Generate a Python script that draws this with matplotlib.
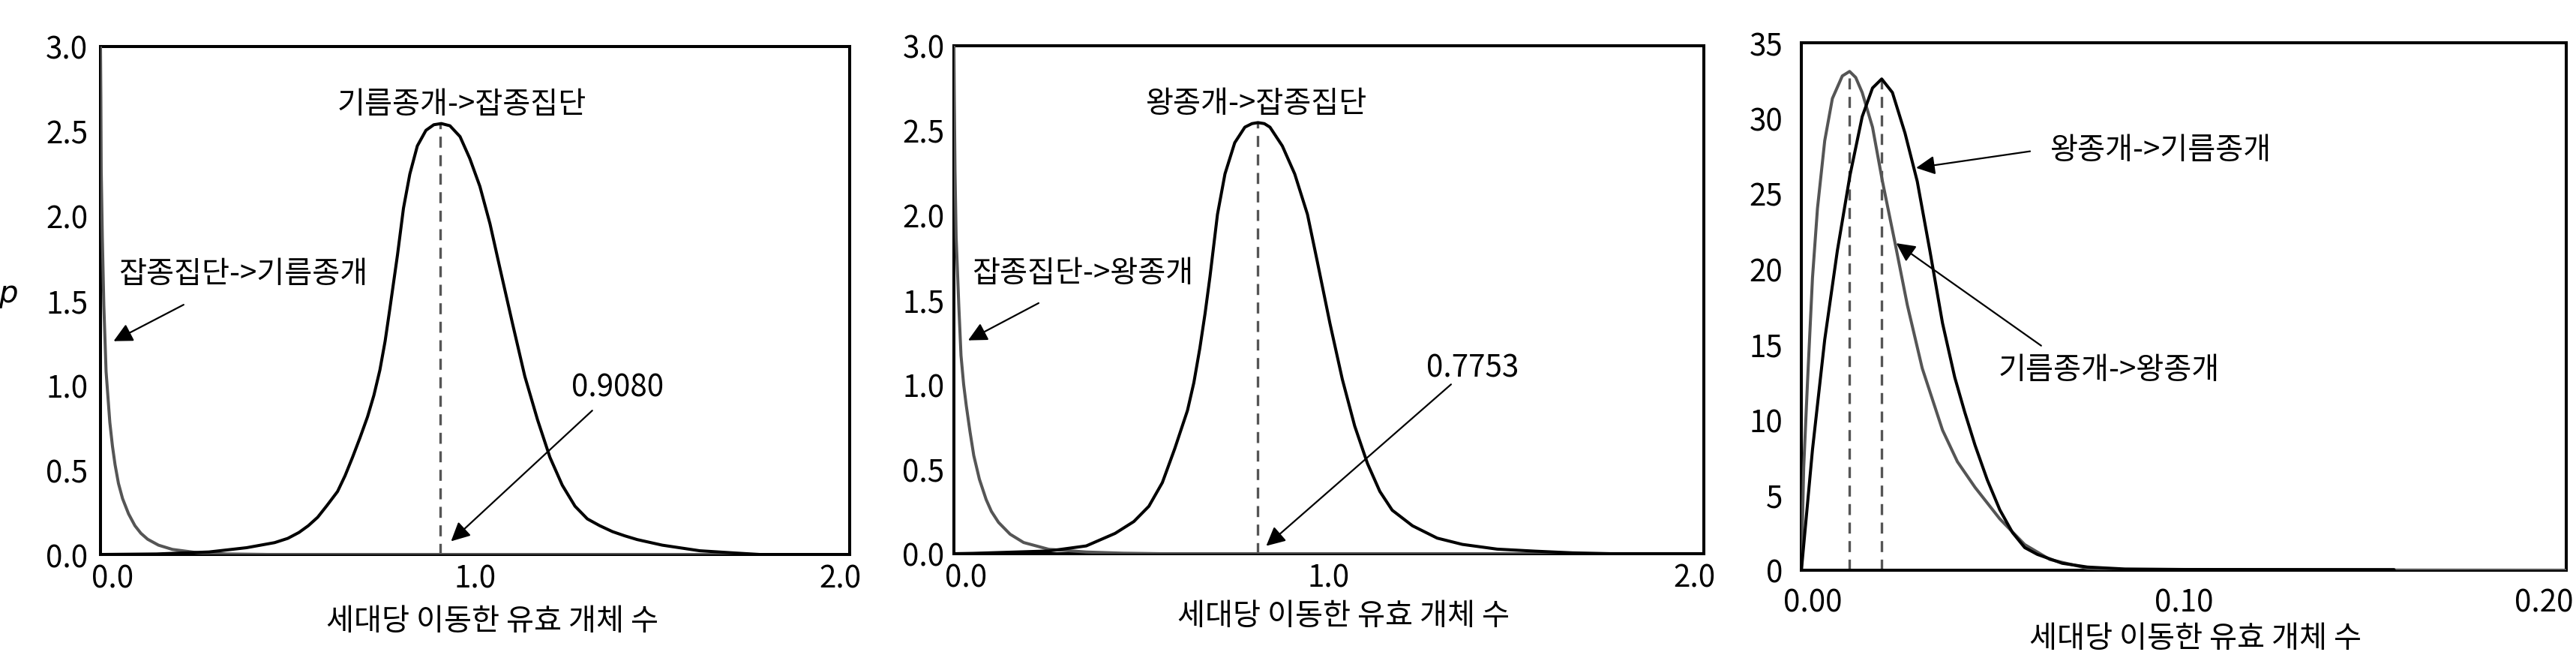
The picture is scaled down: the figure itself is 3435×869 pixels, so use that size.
import matplotlib.pyplot as plt
from matplotlib import transforms

plt.rcParams['font.family'] = ['Noto Sans CJK KR', 'DejaVu Sans']
plt.rcParams['font.weight'] = 'light'

# ---- 데이터 ----
# 패널 1: 기름종개 <-> 잡종집단
p1_black_x = [0, 0.15, 0.29, 0.39, 0.465, 0.50, 0.53, 0.555, 0.58, 0.605, 0.633, 0.653, 0.673,
              0.693, 0.713, 0.73, 0.746, 0.76, 0.773, 0.793, 0.809, 0.826, 0.846, 0.869, 0.890,
              0.910, 0.933, 0.960, 0.986, 1.013, 1.040, 1.066, 1.100, 1.133, 1.167, 1.200,
              1.233, 1.267, 1.300, 1.333, 1.367, 1.40, 1.433, 1.50, 1.60, 1.70, 1.76, 2.0]
p1_black_y = [0, 0.003, 0.015, 0.04, 0.07, 0.095, 0.13, 0.17, 0.22, 0.29, 0.372, 0.465, 0.574,
              0.69, 0.813, 0.94, 1.089, 1.26, 1.457, 1.769, 2.045, 2.247, 2.413, 2.505, 2.538,
              2.545, 2.532, 2.468, 2.339, 2.174, 1.953, 1.696, 1.365, 1.052, 0.795, 0.574,
              0.409, 0.285, 0.21, 0.17, 0.135, 0.11, 0.088, 0.055, 0.022, 0.008, 0, 0]
p1_gray_x = [0, 0.001, 0.002, 0.005, 0.009, 0.015, 0.025, 0.032, 0.039, 0.048, 0.059, 0.075,
             0.092, 0.108, 0.126, 0.155, 0.192, 0.26, 0.34, 0.45, 2.0]
p1_gray_y = [3.0, 2.7, 2.27, 1.87, 1.47, 1.08, 0.78, 0.64, 0.53, 0.42, 0.33, 0.24,
             0.17, 0.125, 0.09, 0.055, 0.03, 0.01, 0.003, 0, 0]
p1_mode = 0.908
p1_mode_y = 2.545

# 패널 2: 왕종개 <-> 잡종집단
p2_black_x = [0, 0.05, 0.253, 0.353, 0.43, 0.48, 0.52, 0.556, 0.589, 0.623, 0.64, 0.656, 0.67,
              0.683, 0.703, 0.723, 0.749, 0.776, 0.795, 0.811, 0.828, 0.843, 0.876, 0.909,
              0.943, 0.969, 1.003, 1.036, 1.069, 1.103, 1.136, 1.169, 1.223, 1.289, 1.356,
              1.449, 1.55, 1.65, 1.75, 2.0]
p2_black_y = [0, 0.002, 0.016, 0.046, 0.12, 0.19, 0.28, 0.42, 0.62, 0.846, 1.01, 1.214, 1.42,
              1.636, 2.004, 2.243, 2.427, 2.519, 2.54, 2.546, 2.54, 2.519, 2.408, 2.243,
              2.004, 1.728, 1.36, 1.03, 0.754, 0.533, 0.368, 0.257, 0.165, 0.092, 0.055,
              0.027, 0.015, 0.005, 0, 0]
p2_gray_x = [0, 0.001, 0.003, 0.006, 0.013, 0.019, 0.026, 0.033, 0.043, 0.053, 0.068, 0.086,
             0.10, 0.119, 0.15, 0.186, 0.253, 0.353, 0.45, 0.55, 2.0]
p2_gray_y = [3.0, 2.7, 2.26, 1.87, 1.47, 1.17, 1.0, 0.875, 0.72, 0.58, 0.44, 0.32,
             0.25, 0.185, 0.115, 0.066, 0.026, 0.01, 0.003, 0, 0]
p2_mode = 0.811
p2_mode_y = 2.546

# 패널 3: 왕종개 <-> 기름종개
p3_gray_x = [0, 0.0006, 0.0016, 0.0029, 0.0042, 0.0061, 0.0081, 0.0107, 0.0126, 0.0142, 0.0159,
             0.0186, 0.0212, 0.0245, 0.0277, 0.0316, 0.0369, 0.0408, 0.0454, 0.0519, 0.0584,
             0.065, 0.0748, 0.085, 0.2]
p3_gray_y = [0, 6.8, 12.5, 19.4, 24.0, 28.5, 31.3, 32.8, 33.1, 32.7, 31.7,
             29.4, 25.8, 21.7, 17.6, 13.4, 9.3, 7.2, 5.5, 3.4, 1.7,
             0.71, 0.13, 0.02, 0]
p3_black_x = [0, 0.0029, 0.0061, 0.0094, 0.0127, 0.0159, 0.0186, 0.021, 0.0238, 0.0271, 0.0303,
              0.0336, 0.0369, 0.0401, 0.0427, 0.0454, 0.0486, 0.0519, 0.0552, 0.0584, 0.0617,
              0.0682, 0.0748, 0.0846, 0.10, 0.155]
p3_black_y = [0, 8.0, 15.3, 21.2, 26.2, 30.1, 32.0, 32.6, 31.7, 29.0, 25.8,
              21.2, 16.4, 12.8, 10.5, 8.3, 6.0, 4.0, 2.5, 1.5, 1.05,
              0.46, 0.21, 0.08, 0.05, 0.04]
p3_gray_mode = 0.0126
p3_gray_mode_y = 33.1
p3_black_mode = 0.021
p3_black_mode_y = 32.6

p12_xticks = [0.0, 1.0, 2.0]
p12_xticklabels = ['0.0', '1.0', '2.0']
p12_yticks = [0.0, 0.5, 1.0, 1.5, 2.0, 2.5, 3.0]
p3_xticks = [0.0, 0.1, 0.2]
p3_xticklabels = ['0.00', '0.10', '0.20']
p3_yticks = [0, 5, 10, 15, 20, 25, 30, 35]

xlabel_text = '세대당 이동한 유효 개체 수'

BLACK = '#000000'
GRAY = '#555555'
FS = 29

fig = plt.figure(figsize=(34.35, 8.7), dpi=100)
ax1 = fig.add_axes([0.0390, 0.1494, 0.2908, 0.7782])
ax2 = fig.add_axes([0.3703, 0.1506, 0.2911, 0.7782])
ax3 = fig.add_axes([0.6993, 0.1253, 0.2969, 0.8080])


def style_axes(ax, ypad, xpad):
    for s in ax.spines.values():
        s.set_linewidth(2.9)
        s.set_color(BLACK)
    ax.tick_params(length=0, labelsize=FS)
    ax.tick_params(axis='y', pad=ypad)
    ax.tick_params(axis='x', pad=xpad)


def shift_labels(ax, dx_first, dx_last):
    labels = ax.get_xticklabels()
    labels[0].set_transform(labels[0].get_transform() +
                            transforms.ScaledTranslation(dx_first / 100, 0, fig.dpi_scale_trans))
    labels[-1].set_transform(labels[-1].get_transform() +
                             transforms.ScaledTranslation(dx_last / 100, 0, fig.dpi_scale_trans))


arrow_kw = dict(arrowstyle='-|>', color=BLACK, lw=1.6, mutation_scale=38, shrinkA=0, shrinkB=0)
dash = (0, (4.4, 3))
line_kw = dict(lw=2.9, solid_joinstyle='round', solid_capstyle='round')

# ---- 패널 1 ----
ax1.plot(p1_gray_x, p1_gray_y, color=GRAY, zorder=3, **line_kw)
ax1.plot(p1_black_x, p1_black_y, color=BLACK, zorder=4, **line_kw)
ax1.plot([p1_mode, p1_mode], [0, p1_mode_y], color=GRAY, lw=2.4, ls=dash, zorder=2)
ax1.set_xlim(0, 2.0)
ax1.set_ylim(0, 3.0)
ax1.set_xticks(p12_xticks)
ax1.set_xticklabels(p12_xticklabels)
ax1.set_yticks(p12_yticks)
ax1.set_yticklabels([f'{v:.1f}' for v in p12_yticks])
style_axes(ax1, 12, 8)
shift_labels(ax1, 16, -12)
ax1.text(0.965, 2.66, '기름종개->잡종집단', fontsize=FS, ha='center', va='center')
ax1.annotate('', xy=(0.035, 1.26), xytext=(0.222, 1.475), arrowprops=arrow_kw)
ax1.text(0.382, 1.66, '잡종집단->기름종개', fontsize=FS, ha='center', va='center')
ax1.annotate('', xy=(0.936, 0.078), xytext=(1.313, 0.85), arrowprops=arrow_kw)
ax1.text(1.38, 0.99, f'{p1_mode:.4f}', fontsize=FS, ha='center', va='center')
ax1.set_xlabel(xlabel_text, fontsize=FS)
ax1.xaxis.set_label_coords(0.5235, -0.13)
ax1.xaxis.label.set_va('center')
fig.text(11 / 3435, 1 - 392 / 870, 'p', fontsize=FS, family='DejaVu Sans', style='italic',
         ha='center', va='center')

# ---- 패널 2 ----
ax2.plot(p2_gray_x, p2_gray_y, color=GRAY, zorder=3, **line_kw)
ax2.plot(p2_black_x, p2_black_y, color=BLACK, zorder=4, **line_kw)
ax2.plot([p2_mode, p2_mode], [0, p2_mode_y], color=GRAY, lw=2.4, ls=dash, zorder=2)
ax2.set_xlim(0, 2.0)
ax2.set_ylim(0, 3.0)
ax2.set_xticks(p12_xticks)
ax2.set_xticklabels(p12_xticklabels)
ax2.set_yticks(p12_yticks)
ax2.set_yticklabels([f'{v:.1f}' for v in p12_yticks])
style_axes(ax2, 9, 8)
shift_labels(ax2, 16, -12)
ax2.text(0.805, 2.66, '왕종개->잡종집단', fontsize=FS, ha='center', va='center')
ax2.annotate('', xy=(0.038, 1.26), xytext=(0.226, 1.48), arrowprops=arrow_kw)
ax2.text(0.343, 1.66, '잡종집단->왕종개', fontsize=FS, ha='center', va='center')
ax2.annotate('', xy=(0.833, 0.046), xytext=(1.326, 1.0), arrowprops=arrow_kw)
ax2.text(1.384, 1.10, '0.7753', fontsize=FS, ha='center', va='center')
ax2.set_xlabel(xlabel_text, fontsize=FS)
ax2.xaxis.set_label_coords(0.52, -0.1226)
ax2.xaxis.label.set_va('center')

# ---- 패널 3 ----
ax3.plot(p3_gray_x, p3_gray_y, color=GRAY, zorder=3, **line_kw)
ax3.plot(p3_black_x, p3_black_y, color=BLACK, zorder=4, **line_kw)
ax3.plot([p3_gray_mode, p3_gray_mode], [0, p3_gray_mode_y], color=GRAY, lw=2.4, ls=dash, zorder=2)
ax3.plot([p3_black_mode, p3_black_mode], [0, p3_black_mode_y], color=GRAY, lw=2.4, ls=dash, zorder=2)
ax3.set_xlim(0, 0.2)
ax3.set_ylim(0, 35)
ax3.set_xticks(p3_xticks)
ax3.set_xticklabels(p3_xticklabels)
ax3.set_yticks(p3_yticks)
ax3.set_yticklabels([str(v) for v in p3_yticks])
style_axes(ax3, 18, 16)
shift_labels(ax3, 15, -30)
ax3.annotate('', xy=(0.030, 26.7), xytext=(0.0598, 27.8), arrowprops=arrow_kw)
ax3.text(0.0939, 27.9, '왕종개->기름종개', fontsize=FS, ha='center', va='center')
ax3.annotate('', xy=(0.0248, 21.7), xytext=(0.0627, 14.9), arrowprops=arrow_kw)
ax3.text(0.0804, 13.3, '기름종개->왕종개', fontsize=FS, ha='center', va='center')
ax3.set_xlabel(xlabel_text, fontsize=FS)
ax3.xaxis.set_label_coords(0.5147, -0.129)
ax3.xaxis.label.set_va('center')

fig.savefig('out.png', dpi=100)
